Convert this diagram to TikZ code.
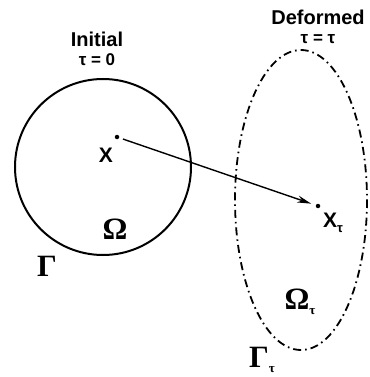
\documentclass[tikz,border=0pt]{standalone}
\usepackage{fontspec}
\setsansfont{Liberation Sans}
\newfontfamily\grk{Liberation Serif}
\usetikzlibrary{arrows.meta, positioning}
\tikzset{
  every picture/.style={line width=2pt},
  caption/.style={font=\sffamily\bfseries\fontsize{20}{21}\selectfont, align=center, inner sep=0pt},
  pt/.style={circle, fill=black, inner sep=0pt, minimum size=4.5pt},
  ptname/.style={font=\sffamily\bfseries\fontsize{21}{21}\selectfont, inner sep=0pt},
  region/.style={font=\grk\bfseries\fontsize{31}{31}\selectfont, inner sep=0pt},
  moves/.style={-{Stealth[length=14pt, width=7pt]}, line width=1.4pt, shorten >=4pt, shorten <=3pt},
  deformed/.style={line width=1.8pt, dash pattern=on 8pt off 4pt on 1.6pt off 4pt},
}
\newcommand{\subt}[1]{\raisebox{-5pt}{\fontsize{13}{13}\selectfont #1}}

\begin{document}
\begin{tikzpicture}[x=1pt, y=-1pt]
  \useasboundingbox (0,0) rectangle (369,377);

  % ---- titles
  \node[caption] (init) at (97,49) {Initial\\[-2pt]{\fontsize{17}{17}\selectfont τ = 0}};
  \node[caption] (defo) at (318,27) {Deformed\\[-2pt]{\fontsize{17}{17}\selectfont τ = τ}};

  % ---- the two bodies
  \draw (103,167) circle[radius=88];
  \draw[deformed] (301,200) ellipse[x radius=66, y radius=150];

  % ---- material point
  \node[pt] (x0) at (117,137) {};
  \node[pt] (xt) at (318,206) {};
  \node[ptname] (lx0) at (106,155) {X};
  \node[ptname] (lxt) at (333,223) {X\subt{τ}};
  \draw[moves] (x0) -- (xt);

  % ---- labels
  \node[region] (om)  at (115,229) {Ω};
  \node[region] (ga)  at (47,266)  {Γ};
  \node[region] (omt) at (300,302) {Ω\subt{τ}};
  \node[region] (gat) at (262,360) {Γ\subt{τ}};
\end{tikzpicture}
\end{document}
